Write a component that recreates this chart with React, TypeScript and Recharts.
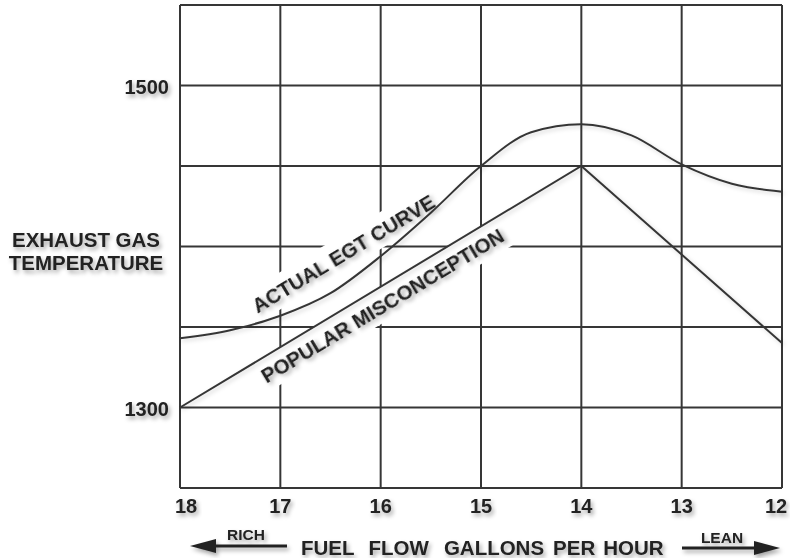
import { LineChart, Line, XAxis, YAxis, CartesianGrid, Customized } from 'recharts';

// fuel flow (gallons per hour)
const fuelFlow = [18, 17.5, 17, 16.5, 16, 15.5, 15, 14.5, 14, 13.5, 13, 12.5, 12];
const actualEgt = [1343, 1348, 1357, 1371, 1394, 1421, 1450, 1471, 1476, 1469, 1451, 1439, 1434];
const misconception = [1300, null, null, null, null, null, null, null, 1450, null, null, null, 1340];

const xTicks = [18, 17, 16, 15, 14, 13, 12];
const yTicks = [1250, 1300, 1350, 1400, 1450, 1500, 1550];
const yLabeled = [1300, 1500];

const data = fuelFlow.map((f, i) => ({
  fuel: f,
  actual: actualEgt[i],
  popular: misconception[i],
}));

const FONT = '"Liberation Sans", Arial, Helvetica, sans-serif';
const INK = '#222';
const LINE = '#363636';

const XTick = (props: any) => {
  const { x, y, payload } = props;
  let dx = 0;
  if (payload.value === 18) dx = 6;
  if (payload.value === 12) dx = -6;
  return (
    <text x={x + dx} y={y + 17} textAnchor="middle" fontFamily={FONT} fontWeight="bold"
      fontSize={20} fill={INK} filter="url(#txtShadow)">
      {payload.value}
    </text>
  );
};

const YTick = (props: any) => {
  const { y, payload } = props;
  if (!yLabeled.includes(payload.value)) return null;
  return (
    <text x={169} y={y + 1} textAnchor="end" dominantBaseline="central" fontFamily={FONT}
      fontWeight="bold" fontSize={20} fill={INK} filter="url(#txtShadow)">
      {payload.value}
    </text>
  );
};

const curveLabels = [
  { text: 'ACTUAL EGT CURVE', x: 343, y: 253, w: 228 },
  { text: 'POPULAR MISCONCEPTION', x: 382, y: 305, w: 314 },
];

// annotations and axis titles
const Annotations = () => {
  const t = { fontFamily: FONT, fontWeight: 'bold' as const };
  return (
    <g>
      <defs>
        <filter id="txtShadow" x="-20%" y="-50%" width="140%" height="200%">
          <feDropShadow dx="2" dy="3" stdDeviation="2" floodColor="#000" floodOpacity="0.35" />
        </filter>
        <filter id="lineShadow" filterUnits="userSpaceOnUse" x="0" y="0" width="790" height="558">
          <feDropShadow dx="2" dy="2" stdDeviation="2" floodColor="#000" floodOpacity="0.18" />
        </filter>
        {/* grid is broken behind the rotated labels */}
        <mask id="gridMask" maskUnits="userSpaceOnUse" x="0" y="0" width="790" height="558">
          <rect x={0} y={0} width={790} height={558} fill="#fff" />
          {curveLabels.map((l) => (
            <rect key={'bg' + l.text} x={l.x - l.w / 2} y={l.y - 16} width={l.w} height={32}
              fill="#000" transform={`rotate(-31 ${l.x} ${l.y})`} />
          ))}
        </mask>
      </defs>

      {curveLabels.map((l) => (
        <text key={l.text} x={l.x} y={l.y} textAnchor="middle" dominantBaseline="central"
          fontSize={20.5} transform={`rotate(-31 ${l.x} ${l.y})`} {...t} fill={INK}
          filter="url(#txtShadow)">
          {l.text}
        </text>
      ))}

      <g filter="url(#txtShadow)" fill={INK}>
        <text x={86} y={239} textAnchor="middle" dominantBaseline="central" fontSize={20.5} {...t}>
          EXHAUST GAS
        </text>
        <text x={86} y={262} textAnchor="middle" dominantBaseline="central" fontSize={20.5} {...t}>
          TEMPERATURE
        </text>

        <text x={301} y={547} dominantBaseline="central" fontSize={20.5} {...t}>
          FUEL<tspan dx={14}>FLOW</tspan><tspan dx={15}>GALLONS</tspan>
          <tspan dx={9}>PER</tspan><tspan dx={8}>HOUR</tspan>
        </text>

        <text x={246} y={534} textAnchor="middle" dominantBaseline="central" fontSize={15.5} {...t}>
          RICH
        </text>
        <line x1={287} y1={546} x2={210} y2={546} stroke={INK} strokeWidth={3} />
        <polygon points="190,546 216,539 216,553" fill={INK} />

        <text x={722} y={537} textAnchor="middle" dominantBaseline="central" fontSize={15.5} {...t}>
          LEAN
        </text>
        <line x1={682} y1={548} x2={760} y2={548} stroke={INK} strokeWidth={3} />
        <polygon points="780,548 754,541 754,555" fill={INK} />
      </g>
    </g>
  );
};

export default function App() {
  return (
    <div style={{ position: 'absolute', left: 0, top: 0, background: '#fff' }}>
      <LineChart width={790} height={558} data={data}
        margin={{ top: 5, right: 8, left: 0, bottom: 0 }}>
        <CartesianGrid stroke={LINE} strokeWidth={2} horizontalValues={yTicks} verticalValues={xTicks}
          mask="url(#gridMask)" />
        <XAxis dataKey="fuel" type="number" domain={[12, 18]} reversed ticks={xTicks}
          axisLine={false} tickLine={false} height={70} tick={<XTick />} interval={0} />
        <YAxis type="number" domain={[1250, 1550]} ticks={yTicks} axisLine={false}
          tickLine={false} width={180} tick={<YTick />} interval={0} />
        <Customized component={<Annotations />} />
        <Line dataKey="actual" type="monotone" stroke={LINE} strokeWidth={2} dot={false}
          isAnimationActive={false} filter="url(#lineShadow)" />
        <Line dataKey="popular" type="linear" connectNulls stroke={LINE} strokeWidth={2}
          dot={false} isAnimationActive={false} filter="url(#lineShadow)" />
      </LineChart>
    </div>
  );
}
